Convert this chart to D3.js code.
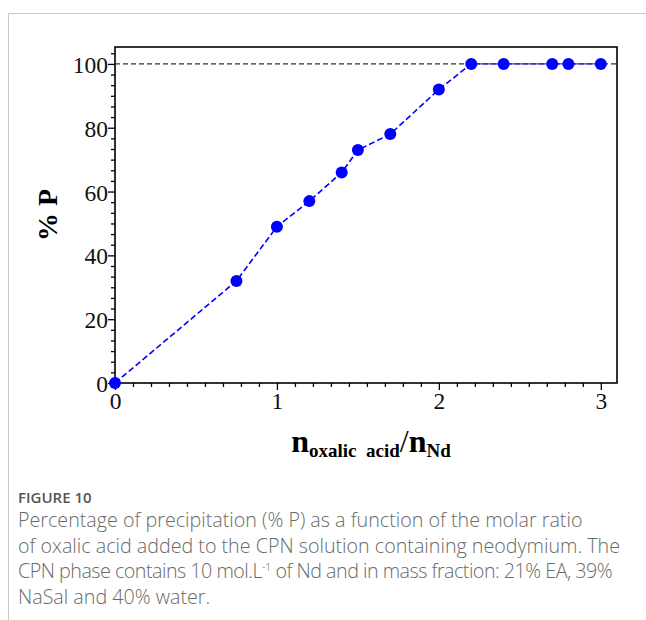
<!DOCTYPE html>
<html>
<head>
<meta charset="utf-8">
<title>Figure 10</title>
<style>
body { margin: 0; background: #fff; }
svg { display: block; }
.axis text { font-family: 'Liberation Serif', serif; font-size: 23.5px; fill: #111; }
.axis line { stroke: #000; stroke-width: 1.3; }
.caption { font-family: 'Open Sans', 'Noto Sans', sans-serif; fill: #6a6a6a; font-size: 19.7px; font-weight: 300; }
</style>
</head>
<body>
<svg></svg>
<script src="https://d3js.org/d3.v7.min.js"></script>
<script>
// molar ratio n(oxalic acid)/n(Nd) and % precipitation
const ratio  = [0, 0.75, 1, 1.2, 1.4, 1.5, 1.7, 2, 2.2, 2.4, 2.7, 2.8, 3];
const precip = [0, 32, 49, 57, 66, 73, 78, 92, 100, 100, 100, 100, 100];
const xTicks = [0, 1, 2, 3];
const yTicks = [0, 20, 40, 60, 80, 100];
const captionLines = [
  'Percentage of precipitation (% P) as a function of the molar ratio',
  'of oxalic acid added to the CPN solution containing neodymium. The',
  null, // line with superscript, built below
  'NaSal and 40% water.'
];

const W = 646, H = 620;
const plot = { left: 115, right: 617, top: 47, bottom: 383 };

const svg = d3.select('svg').attr('width', W).attr('height', H);

// card border (top + left)
svg.append('path')
   .attr('d', `M8.5,${H} V13.5 H${W}`)
   .attr('fill', 'none').attr('stroke', '#c8c8c8').attr('stroke-width', 1);

const x = d3.scaleLinear([0, 3.1], [plot.left, plot.right]);
const y = d3.scaleLinear([0, 105.3], [plot.bottom, plot.top]);

// minor ticks
const xMinor = d3.range(0, 3.1, 1 / 9).filter(v => Math.abs(v - Math.round(v)) > 1e-6);
const yMinor = d3.range(0, 105, 20 / 6).filter(v => Math.abs(v / 20 - Math.round(v / 20)) > 1e-6);

svg.append('g').attr('class', 'axis')
   .attr('transform', `translate(0,${plot.bottom})`)
   .call(d3.axisBottom(x).tickValues(xMinor).tickSize(4).tickFormat(''))
   .call(g => g.select('.domain').remove());
svg.append('g').attr('class', 'axis')
   .attr('transform', `translate(${plot.left},0)`)
   .call(d3.axisLeft(y).tickValues(yMinor).tickSize(4).tickFormat(''))
   .call(g => g.select('.domain').remove());

svg.append('g').attr('class', 'axis')
   .attr('transform', `translate(0,${plot.bottom})`)
   .call(d3.axisBottom(x).tickValues(xTicks).tickSize(7).tickPadding(2).tickFormat(d3.format('d')))
   .call(g => g.select('.domain').remove());
svg.append('g').attr('class', 'axis')
   .attr('transform', `translate(${plot.left},0)`)
   .call(d3.axisLeft(y).tickValues(yTicks).tickSize(7).tickPadding(0).tickFormat(d3.format('d')))
   .call(g => g.select('.domain').remove())
   .call(g => g.selectAll('text').attr('dy', '0.36em'));

// frame
svg.append('rect')
   .attr('x', plot.left).attr('y', plot.top)
   .attr('width', plot.right - plot.left).attr('height', plot.bottom - plot.top)
   .attr('fill', 'none').attr('stroke', '#000').attr('stroke-width', 1.6);

const pts = ratio.map((r, i) => ({ r, p: precip[i] }));
const full = pts.findIndex(d => d.p >= 100);
const line = d3.line().x(d => x(d.r)).y(d => y(d.p));

// rising part dashed, plateau solid
svg.append('path')
   .attr('fill', 'none').attr('stroke', '#0000ff').attr('stroke-width', 1.6)
   .attr('stroke-dasharray', '6,3')
   .attr('d', line(pts.slice(0, full + 1)));
svg.append('path')
   .attr('fill', 'none').attr('stroke', '#2a2aff').attr('stroke-width', 1.4)
   .attr('d', line(pts.slice(full)));

// 100 % reference
svg.append('line')
   .attr('x1', x(0)).attr('x2', x(3.1)).attr('y1', y(100)).attr('y2', y(100))
   .attr('stroke', '#333').attr('stroke-width', 1.2).attr('stroke-dasharray', '5,3');

svg.append('g').selectAll('circle').data(pts).join('circle')
   .attr('cx', d => x(d.r)).attr('cy', d => y(d.p)).attr('r', 6)
   .attr('fill', '#0000ff');

// axis titles
svg.append('text')
   .attr('transform', 'translate(57,215) rotate(-90)')
   .attr('text-anchor', 'middle')
   .style('font-family', 'Liberation Serif, serif').style('font-weight', 'bold').style('font-size', '28px')
   .text('% P');

const xt = svg.append('text')
   .attr('x', 371).attr('y', 452)
   .attr('text-anchor', 'middle')
   .style('font-family', 'Liberation Serif, serif').style('font-weight', 'bold');
xt.append('tspan').style('font-size', '32px').text('n');
xt.append('tspan').style('font-size', '19px').attr('dy', 5).text('oxalic\u00a0\u00a0acid');
xt.append('tspan').style('font-size', '32px').attr('dy', -5).style('font-weight', 'normal').text('/');
xt.append('tspan').style('font-size', '32px').text('n');
xt.append('tspan').style('font-size', '19px').attr('dy', 5).text('Nd');

// caption
svg.append('text')
   .attr('x', 18).attr('y', 503)
   .style('font-family', 'Open Sans, Noto Sans, sans-serif').style('font-size', '15px')
   .style('font-weight', 600).style('fill', '#555')
   .text('FIGURE 10');

const cap = svg.append('g').attr('class', 'caption');
captionLines.forEach((line, i) => {
  const t = cap.append('text').attr('x', 18).attr('y', 527 + i * 25.5);
  if (line) { t.text(line); return; }
  t.style('letter-spacing', '-0.5px');
  t.append('tspan').text('CPN phase contains 10 mol.L');
  t.append('tspan').attr('dy', -7).style('font-size', '11px').text('-1');
  t.append('tspan').attr('dy', 7).text(' of Nd and in mass fraction: 21% EA, 39%');
});
</script>
</body>
</html>
